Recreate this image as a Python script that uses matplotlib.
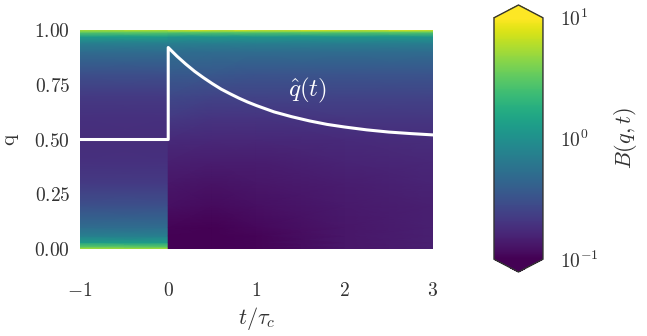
import numpy as np
import matplotlib
matplotlib.use('Agg')
import matplotlib.pyplot as plt
from matplotlib.colors import LogNorm

plt.rcParams['font.family'] = 'serif'
plt.rcParams['font.serif'] = ['cmr10', 'DejaVu Serif']
plt.rcParams['mathtext.fontset'] = 'cm'
plt.rcParams['axes.unicode_minus'] = False

q_levels = [0.0, 0.01, 0.03, 0.06, 0.1, 0.2, 0.3, 0.4, 0.5,
            0.6, 0.7, 0.8, 0.9, 0.94, 0.97, 0.99, 1.0]

# t < 0 : stationary profile
t_before = [-1.0, 0.0]
B_before = [6.0, 3.2, 1.25, 0.72, 0.50, 0.30, 0.22, 0.19, 0.178,
            0.19, 0.22, 0.30, 0.50, 0.72, 1.25, 3.2, 6.0]

# t > 0 : columns at t = 0, 0.5, 1, 2, 3
t_after = [0.0, 0.5, 1.0, 2.0, 3.0]
B_after = [
    [0.100, 0.105, 0.105, 0.132, 0.151],
    [0.100, 0.100, 0.105, 0.132, 0.151],
    [0.100, 0.100, 0.105, 0.132, 0.151],
    [0.100, 0.100, 0.105, 0.132, 0.151],
    [0.105, 0.100, 0.110, 0.132, 0.151],
    [0.120, 0.115, 0.120, 0.138, 0.151],
    [0.132, 0.126, 0.132, 0.145, 0.158],
    [0.151, 0.145, 0.145, 0.158, 0.166],
    [0.174, 0.166, 0.166, 0.174, 0.182],
    [0.219, 0.200, 0.200, 0.209, 0.209],
    [0.275, 0.251, 0.251, 0.251, 0.251],
    [0.360, 0.350, 0.330, 0.330, 0.330],
    [0.520, 0.500, 0.500, 0.500, 0.500],
    [0.720, 0.700, 0.700, 0.700, 0.700],
    [1.100, 1.100, 1.100, 1.100, 1.100],
    [3.000, 3.000, 3.000, 3.000, 3.000],
    [8.000, 8.000, 8.000, 8.000, 8.000],
]

# q_hat(t)
t_hat = [-1.0, 0.0, 0.0, 0.1, 0.2, 0.3, 0.4, 0.5, 0.6, 0.7, 0.8, 0.9, 1.0,
         1.2, 1.4, 1.6, 1.8, 2.0, 2.25, 2.5, 2.75, 3.0]
q_hat = [0.5, 0.5, 0.920, 0.880, 0.844, 0.811, 0.782, 0.755, 0.730, 0.709,
         0.689, 0.671, 0.655, 0.626, 0.604, 0.585, 0.569, 0.557, 0.544,
         0.534, 0.527, 0.521]

xticks = [-1, 0, 1, 2, 3]
yticks = [0.0, 0.25, 0.5, 0.75, 1.0]

norm = LogNorm(vmin=0.1, vmax=10)
fig = plt.figure(figsize=(6.47, 3.36), dpi=100)
ax = fig.add_axes([0.1236, 0.2589, 0.5456, 0.6518])

Tb, Qb = np.meshgrid(t_before, q_levels)
Cb = np.column_stack([B_before, B_before])
ax.pcolormesh(Tb, Qb, Cb, shading='gouraud', cmap='viridis', norm=norm)

Ta, Qa = np.meshgrid(t_after, q_levels)
mesh = ax.pcolormesh(Ta, Qa, np.array(B_after), shading='gouraud',
                     cmap='viridis', norm=norm)

ax.plot(t_hat, q_hat, color='white', lw=2.2)
ax.text(1.58, 0.726, r'$\hat{q}(t)$', color='white', fontsize=18,
        ha='center', va='center')

ax.set_xlim(-1, 3)
ax.set_ylim(0, 1)
ax.set_xticks(xticks)
ax.set_xticklabels(['$%d$' % v for v in xticks])
ax.set_yticks(yticks)
ax.set_yticklabels(['$%.2f$' % v for v in yticks])
ax.tick_params(axis='both', length=0, labelsize=14, colors='#333333')
ax.tick_params(axis='x', pad=24)
ax.tick_params(axis='y', pad=7)
for s in ax.spines.values():
    s.set_visible(False)
ax.set_xlabel(r'$t/\tau_c$', fontsize=16, color='#333333', labelpad=3)
ax.set_ylabel('q', fontsize=15, color='#333333', labelpad=12)

cax = fig.add_axes([0.7635, 0.1905, 0.0757, 0.7946])
cb = fig.colorbar(mesh, cax=cax, extend='both', extendfrac=0.053)
cb.outline.set_edgecolor('#333333')
cb.outline.set_linewidth(1.0)
cb.set_ticks([0.1, 1, 10])
cb.set_ticklabels([r'$10^{-1}$', r'$10^{0}$', r'$10^{1}$'])
cax.minorticks_off()
cax.tick_params(length=0, labelsize=14, colors='#333333', pad=12)
cb.set_label(r'$B(q,t)$', fontsize=16, color='#333333', labelpad=10)

fig.savefig('out.png', dpi=100)
